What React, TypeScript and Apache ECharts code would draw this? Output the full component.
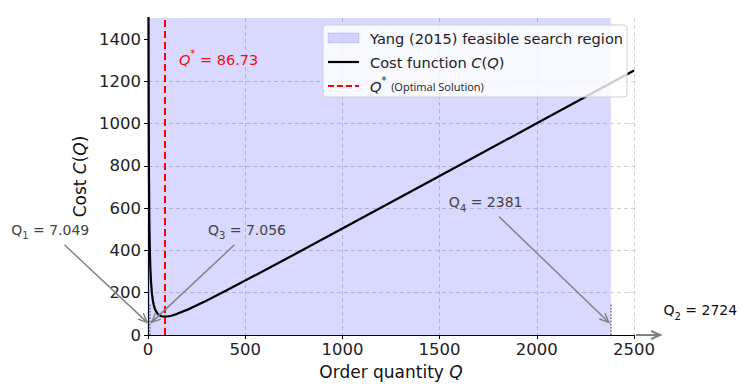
import React, { useEffect, useRef } from "react";
import * as echarts from "echarts";

const FONT = "DejaVu Sans";

// Cost curve C(Q)
const qValues = [2.5, 3, 4, 5, 6, 7, 8, 10, 12, 15, 20, 25, 30, 35, 40, 50, 60, 70, 86.73, 100, 120, 150, 200, 300, 400, 500, 750, 1000, 1500, 2000, 2500];
const costValues = [1506, 1255, 942, 755, 630, 541, 474, 381, 319, 258, 198, 163, 140, 125, 114, 100, 92.7, 88.7, 86.7, 87.6, 91.3, 100.1, 118.8, 162.5, 209.4, 257.5, 380, 503.8, 752.5, 1001.9, 1251.5];

const xTicks = [0, 500, 1000, 1500, 2000, 2500];
const yTicks = [0, 200, 400, 600, 800, 1000, 1200, 1400];

const optimalQ = 86.73;
const q1 = 7.049;
const q2 = 2724;
const q3 = 7.056;
const q4 = 2381;
const regionStart = 0;
const regionEnd = q4;
const markerTop = 150;

// annotation layout (data coordinates)
const labelPos = {
  q1: [-503, 498],
  q3: [509, 498],
  q4: [1737, 628],
  q2: [2841, 116],
  opt: [159, 1302],
};
const arrowDefs = [
  { from: [-437, 433], to: [q1, 50], width: 1.4 },
  { from: [452, 433], to: [q3, 50], width: 1.4 },
  { from: [1798, 567], to: [q4, 50], width: 1.4 },
  { from: [2500, 0], to: [2650, 0], width: 2 },
];

const ARROW = "#808080";

export default function App() {
  const ref = useRef<HTMLDivElement>(null);
  useEffect(() => {
    if (!ref.current) return;
    const chart = echarts.init(ref.current, null, { renderer: "svg" });
    const italicRich = {
      i: { fontStyle: "italic", fontFamily: FONT, fontSize: 17, color: "#111" },
    };
    chart.setOption({
      animation: false,
      grid: { left: 148, right: 108, top: 18, bottom: 45, containLabel: false },
      xAxis: {
        type: "value",
        min: 0,
        max: 2500,
        interval: 500,
        name: "Order quantity {i|Q}",
        nameLocation: "middle",
        nameGap: 28,
        nameTextStyle: { fontFamily: FONT, fontSize: 17, color: "#111", rich: italicRich },
        axisLine: { show: true, onZero: false, lineStyle: { color: "#000", width: 1.2 } },
        axisTick: { show: true, length: 4, lineStyle: { color: "#000", width: 1 }, customValues: xTicks },
        axisLabel: {
          color: "#222",
          fontSize: 16.5,
          fontFamily: FONT,
          margin: 6,
          customValues: xTicks,
          formatter: (v: number) => String(v),
        },
        splitLine: { show: true, showMinLine: false, lineStyle: { color: "#c4c4c4", type: [4, 3], width: 0.8 } },
      },
      yAxis: {
        type: "value",
        min: 0,
        max: 1500,
        interval: 200,
        name: "Cost {i|C}({i|Q})",
        nameLocation: "middle",
        nameGap: 47,
        nameTextStyle: { fontFamily: FONT, fontSize: 17, color: "#111", rich: italicRich },
        axisLine: { show: true, onZero: false, lineStyle: { color: "#000", width: 1.2 } },
        axisTick: { show: true, length: 4, lineStyle: { color: "#000", width: 1 }, customValues: yTicks },
        axisLabel: {
          color: "#222",
          fontSize: 16.5,
          fontFamily: FONT,
          margin: 7,
          customValues: yTicks,
          formatter: (v: number) => String(v),
        },
        splitLine: { show: true, showMinLine: false, showMaxLine: false, lineStyle: { color: "#c4c4c4", type: [4, 3], width: 0.8 } },
      },
      series: [
        {
          type: "line",
          name: "Cost function",
          data: qValues.map((q, i) => [q, costValues[i]]),
          showSymbol: false,
          smooth: false,
          clip: true,
          lineStyle: { color: "#000", width: 2.2 },
          z: 4,
          markArea: {
            silent: true,
            itemStyle: { color: "rgba(0,0,255,0.15)" },
            data: [[{ xAxis: regionStart }, { xAxis: regionEnd }]],
          },
          markLine: {
            silent: true,
            symbol: ["none", "none"],
            label: { show: false },
            data: [
              { xAxis: optimalQ, lineStyle: { color: "#ff0000", type: [7, 4], width: 2 } },
              [
                { coord: [q1, 0], lineStyle: { color: "#777", type: "dotted", width: 1.6 } },
                { coord: [q1, markerTop] },
              ],
              [
                { coord: [q4, 0], lineStyle: { color: "#777", type: "dotted", width: 1.6 } },
                { coord: [q4, markerTop] },
              ],
            ],
          },
        },
      ],
    });

    const px = (p: number[]) => chart.convertToPixel({ gridIndex: 0 }, p) as number[];
    const graphics: any[] = [];

    arrowDefs.forEach((a) => {
      const p1 = px(a.from);
      const p2 = px(a.to);
      const dx = p2[0] - p1[0];
      const dy = p2[1] - p1[1];
      const len = Math.hypot(dx, dy);
      const ux = dx / len;
      const uy = dy / len;
      const shrink = 3;
      const sx = p1[0] + ux * 2;
      const sy = p1[1] + uy * 2;
      const tx = p2[0] - ux * shrink;
      const ty = p2[1] - uy * shrink;
      const L = 9;
      const W = 4;
      graphics.push({
        type: "line",
        z: 100,
        shape: { x1: sx, y1: sy, x2: tx, y2: ty },
        style: { stroke: ARROW, lineWidth: a.width },
      });
      graphics.push({
        type: "polyline",
        z: 100,
        shape: {
          points: [
            [tx - ux * L - uy * W, ty - uy * L + ux * W],
            [tx, ty],
            [tx - ux * L + uy * W, ty - uy * L - ux * W],
          ],
        },
        style: { stroke: ARROW, lineWidth: a.width, fill: "none" },
      });
    });

    const annRich = (color: string) => ({
      m: { fontFamily: FONT, fontSize: 14, fill: color, lineHeight: 22 },
      s: { fontFamily: FONT, fontSize: 10, fill: color, lineHeight: 12, verticalAlign: "bottom" },
    });
    const addLabel = (pos: number[], sub: string, value: number, color: string) => {
      const p = px(pos);
      graphics.push({
        type: "text",
        z: 100,
        x: p[0],
        y: p[1],
        style: {
          text: `{m|Q}{s|${sub}}{m| = ${value}}`,
          rich: annRich(color),
          align: "center",
          verticalAlign: "middle",
        },
      });
    };
    addLabel(labelPos.q1, "1", q1, "#444");
    addLabel(labelPos.q3, "3", q3, "#444");
    addLabel(labelPos.q4, "4", q4, "#444");
    addLabel(labelPos.q2, "2", q2, "#111");

    const op = px(labelPos.opt);
    graphics.push({
      type: "text",
      z: 100,
      x: op[0],
      y: op[1],
      style: {
        text: `{i|Q}{sup|*}{n| = ${optimalQ}}`,
        rich: {
          i: { fontFamily: FONT, fontSize: 14.5, fontStyle: "italic", fill: "#ee1111", lineHeight: 22 },
          sup: { fontFamily: FONT, fontSize: 10, fill: "#ee1111", lineHeight: 12, verticalAlign: "top" },
          n: { fontFamily: FONT, fontSize: 14.5, fill: "#ee1111", lineHeight: 22 },
        },
        align: "left",
        verticalAlign: "middle",
      },
    });

    // legend
    const lx = 323;
    const ly = 25;
    graphics.push({
      type: "rect",
      z: 110,
      shape: { x: lx, y: ly, width: 304, height: 72, r: 3 },
      style: { fill: "rgba(255,255,255,0.8)", stroke: "#d0d0d0", lineWidth: 1 },
    });
    graphics.push({
      type: "rect",
      z: 111,
      shape: { x: 328, y: 33, width: 31, height: 10 },
      style: { fill: "rgba(0,0,255,0.15)", stroke: "rgba(0,0,255,0.12)", lineWidth: 1 },
    });
    graphics.push({
      type: "line",
      z: 111,
      shape: { x1: 328, y1: 62, x2: 359, y2: 62 },
      style: { stroke: "#000", lineWidth: 2.2 },
    });
    graphics.push({
      type: "line",
      z: 111,
      shape: { x1: 328, y1: 86, x2: 359, y2: 86 },
      style: { stroke: "#ff0000", lineWidth: 2, lineDash: [6, 3] },
    });
    const legRich = {
      t: { fontFamily: FONT, fontSize: 14.6, fill: "#222", lineHeight: 22 },
      i: { fontFamily: FONT, fontSize: 14.6, fontStyle: "italic", fill: "#222", lineHeight: 22 },
      sup: { fontFamily: FONT, fontSize: 10, fill: "#222", lineHeight: 12, verticalAlign: "top" },
      sm: { fontFamily: "Open Sans", fontSize: 11, fill: "#222", lineHeight: 22 },
    };
    const legTexts = [
      "{t|Yang (2015) feasible search region}",
      "{t|Cost function }{i|C}{t|(}{i|Q}{t|)}",
      "{i|Q}{sup|*}{t| }{sm|(Optimal Solution)}",
    ];
    legTexts.forEach((t, i) => {
      graphics.push({
        type: "text",
        z: 112,
        x: 370,
        y: 38 + i * 24,
        style: { text: t, rich: legRich, align: "left", verticalAlign: "middle" },
      });
    });

    chart.setOption({ graphic: graphics });
    return () => chart.dispose();
  }, []);
  return (
    <div
      ref={ref}
      style={{ position: "fixed", left: 0, top: 0, width: 742, height: 385, background: "#fff" }}
    />
  );
}
